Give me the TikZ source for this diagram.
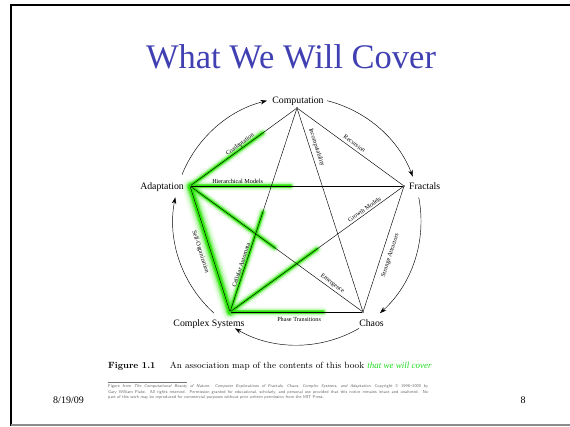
\documentclass[tikz,border=0pt]{standalone}
\usepackage{amsmath}
\usepackage{amssymb}
\usepackage{fontspec}
\newfontfamily\timesrm{Liberation Serif}
\usepackage{tikz}
\usetikzlibrary{arrows,arrows.meta,calc,positioning}
\definecolor{titleblue}{RGB}{64,64,178}
\definecolor{hlgreen}{RGB}{45,230,10}
\definecolor{capgreen}{RGB}{30,220,30}
\tikzset{
  vtx/.style={circle,fill=black,inner sep=0pt,minimum size=1.6pt},
  vlab/.style={font=\timesrm\fontsize{9.8}{11}\selectfont,inner sep=0pt},
  elab/.style={font=\timesrm\fontsize{6.2}{7}\selectfont,inner sep=1pt,sloped},
  link/.style={line width=0.45pt},
  ring/.style={line width=0.45pt,-{Stealth[length=6.5pt,width=4.5pt,inset=2pt]}},
}
% green marker behind an edge: from, to, fraction, width factor
\newcommand{\Glow}[4]{%
  \foreach \w/\op in {10/0.06,8/0.1,6.2/0.16,4.6/0.3,3.2/0.6,2.2/0.95}{%
    \draw[hlgreen,line width=#4*\w,opacity=\op,line cap=round]
      (#1) -- ($(#1)!#3!(#2)$);}}
\begin{document}
\begin{tikzpicture}[x=1pt,y=1pt]
%
\useasboundingbox (0,0) rectangle (570,426);
%
\draw[line width=1.8pt] (11,0) -- (11,421) -- (570,421);
\draw[line width=1.6pt,black!45] (11,1) -- (570,1);
%
\node[font=\timesrm\fontsize{34.5}{40}\selectfont,text=titleblue,anchor=base] (title) at (291,357) {What We Will Cover};
%
\node[vtx] (comp) at (297,318) {};
\node[vtx] (frac) at (404,240) {};
\node[vtx] (chaos) at (363,114) {};
\node[vtx] (cplx) at (230,114) {};
\node[vtx] (adapt) at (190,240) {};
%
\node[vlab,anchor=base] (lcomp) at (298,322) {Computation};
\node[vlab,anchor=base west] (lfrac) at (409,236.5) {Fractals};
\node[vlab,anchor=base] (lchaos) at (371.5,99.5) {Chaos};
\node[vlab,anchor=base] (lcplx) at (209,99.5) {Complex Systems};
\node[vlab,anchor=base east] (ladapt) at (184,236) {Adaptation};
%
\Glow{adapt}{comp}{0.68}{1}
\Glow{adapt}{frac}{0.47}{1}
\Glow{adapt}{chaos}{0.49}{1}
\Glow{adapt}{cplx}{1}{1.7}
\Glow{cplx}{comp}{0.49}{1}
\Glow{cplx}{frac}{0.5}{1}
\Glow{cplx}{chaos}{0.7}{1}
%
\draw[link] (adapt) -- node[elab,above=0pt,pos=0.49]{Coadaptation} (comp);
\draw[link] (comp) -- node[elab,above=1.8pt,pos=0.51]{Recursion} (frac);
\draw[link] (comp) -- node[elab,above=2.4pt,pos=0.2]{Incomputability} (chaos);
\draw[link] (adapt) -- node[elab,above=0.9pt,pos=0.22]{Hierarchical Models} (frac);
\draw[link] (cplx) -- node[elab,above=0.8pt,pos=0.79]{Growth Models} (frac);
\draw[link] (chaos) -- node[elab,below=4.6pt,pos=0.47]{Strange Attractors} (frac);
\draw[link] (adapt) -- node[elab,above=0.9pt,pos=0.81]{Emergence} (chaos);
\draw[link] (adapt) -- node[elab,below=5.9pt,pos=0.5]{Self-Organization} (cplx);
\draw[link] (cplx) -- node[elab,above=0.7pt,pos=0.22]{Cellular Automata} (comp);
\draw[link] (cplx) -- node[elab,below=3.9pt,pos=0.52]{Phase Transitions} (chaos);
%
\coordinate (o) at (297,205);
\coordinate (r0) at ([shift={(158:124)}]o);
\coordinate (r1) at ([shift={(76:124)}]o);
\coordinate (r2) at ([shift={(11:124)}]o);
\coordinate (r3) at ([shift={(-60:124)}]o);
\coordinate (r4) at ([shift={(228:124)}]o);
\draw[ring] (r0) arc[start angle=158,end angle=104,radius=124];
\draw[ring] (r1) arc[start angle=76,end angle=21,radius=124];
\draw[ring] (r2) arc[start angle=11,end angle=-48,radius=124];
\draw[ring] (r3) arc[start angle=-60,end angle=-120,radius=124];
\draw[ring] (r4) arc[start angle=228,end angle=169,radius=124];
%
\node[anchor=base west,inner sep=0pt,font=\fontsize{9}{11}\selectfont] (cap) at (108,58) {\textbf{Figure 1.1}\hspace{1.6em}An association map of the contents of this book {\timesrm\itshape\color{capgreen}that we will cover}};
%
\draw[line width=0.4pt,black!55] (108,44) -- (187,44);
\node[anchor=north west,inner sep=0pt,text width=320pt,align=justify,font=\sffamily\fontsize{4.2}{5.3}\selectfont,text=black!60] (note) at (108,41.5) {Figure from \textit{The Computational Beauty of Nature: Computer Explorations of Fractals, Chaos, Complex Systems, and Adaptation}.\ Copyright \textcopyright\ 1998--2000 by\linebreak Gary William Flake. All rights reserved. Permission granted for educational, scholarly, and personal use provided that this notice remains intact and unaltered. No\linebreak part of this work may be reproduced for commercial purposes without prior written permission from the MIT Press.};
%
\node[font=\timesrm\fontsize{10}{12}\selectfont,anchor=base] (date) at (68.5,22.7) {8/19/09};
\node[font=\timesrm\fontsize{10}{12}\selectfont,anchor=base] (page) at (523,22.7) {8};
%
\end{tikzpicture}
\end{document}
